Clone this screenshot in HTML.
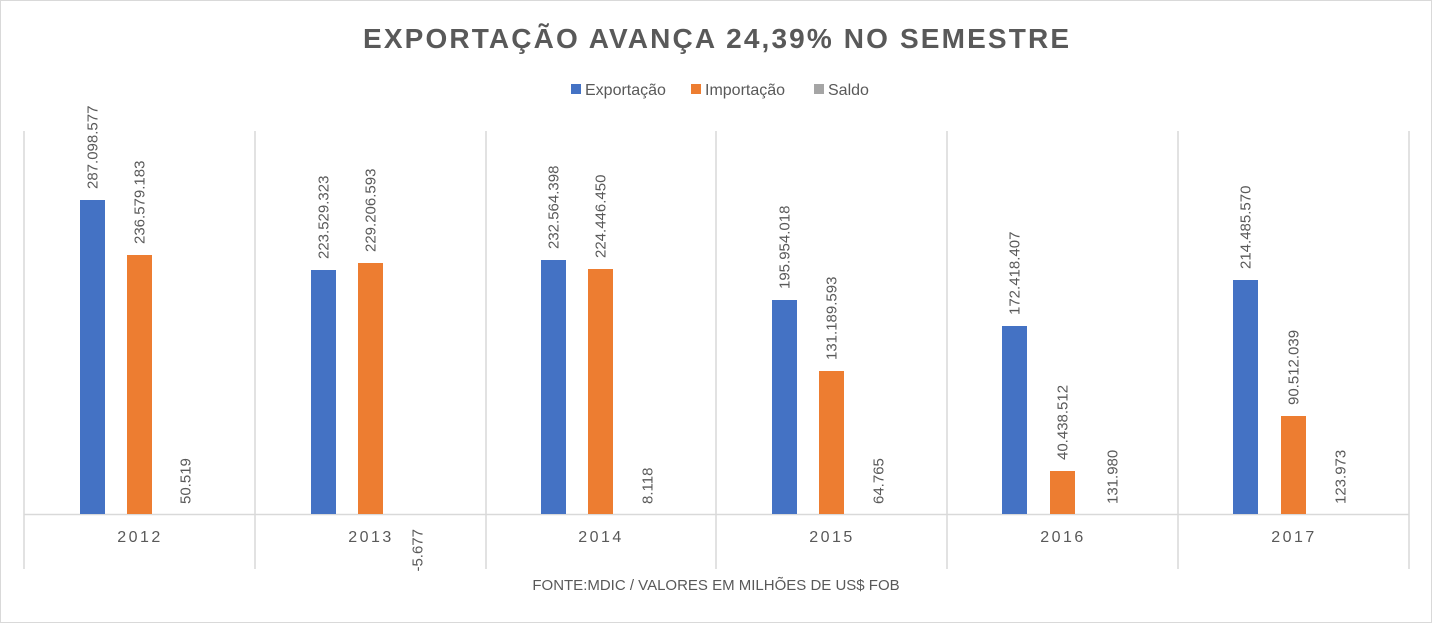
<!DOCTYPE html>
<html><head><meta charset="utf-8"><style>
html,body{margin:0;padding:0;background:#fff}
svg{display:block;font-family:"Liberation Sans",sans-serif}
</style></head><body>
<svg width="1432" height="623" viewBox="0 0 1432 623">
<rect x="0.5" y="0.5" width="1431" height="622" fill="#fff" stroke="#d9d9d9"/>
<text x="716" y="48" text-anchor="middle" font-size="28" font-weight="bold" fill="#595959" textLength="706" lengthAdjust="spacing">EXPORTAÇÃO AVANÇA 24,39% NO SEMESTRE</text>
<rect x="571" y="84" width="10" height="10" fill="#4472c4"/>
<text x="585" y="95" font-size="16" fill="#595959">Exportação</text>
<rect x="691" y="84" width="10" height="10" fill="#ed7d31"/>
<text x="705" y="95" font-size="16" fill="#595959">Importação</text>
<rect x="814" y="84" width="10" height="10" fill="#a5a5a5"/>
<text x="828" y="95" font-size="16" fill="#595959">Saldo</text>
<g stroke="#d9d9d9" stroke-width="1.5">
<line x1="24" y1="131" x2="24" y2="569"/><line x1="255" y1="131" x2="255" y2="569"/>
<line x1="486" y1="131" x2="486" y2="569"/><line x1="716" y1="131" x2="716" y2="569"/>
<line x1="947" y1="131" x2="947" y2="569"/><line x1="1178" y1="131" x2="1178" y2="569"/>
<line x1="1409" y1="131" x2="1409" y2="569"/>
<line x1="24" y1="514.5" x2="1409" y2="514.5"/>
</g>
<g font-size="15" fill="#595959" dominant-baseline="central">
<rect x="80" y="200" width="25" height="314" fill="#4472c4"/>
<rect x="127" y="255" width="25" height="259" fill="#ed7d31"/>
<text transform="translate(93,189) rotate(-90)">287.098.577</text>
<text transform="translate(140,244) rotate(-90)">236.579.183</text>
<text transform="translate(186,504) rotate(-90)">50.519</text>
<rect x="311" y="270" width="25" height="244" fill="#4472c4"/>
<rect x="358" y="263" width="25" height="251" fill="#ed7d31"/>
<text transform="translate(324,259) rotate(-90)">223.529.323</text>
<text transform="translate(371,252) rotate(-90)">229.206.593</text>
<text transform="translate(418,529) rotate(-90)" text-anchor="end">-5.677</text>
<rect x="541" y="260" width="25" height="254" fill="#4472c4"/>
<rect x="588" y="269" width="25" height="245" fill="#ed7d31"/>
<text transform="translate(554,249) rotate(-90)">232.564.398</text>
<text transform="translate(601,258) rotate(-90)">224.446.450</text>
<text transform="translate(648,504) rotate(-90)">8.118</text>
<rect x="772" y="300" width="25" height="214" fill="#4472c4"/>
<rect x="819" y="371" width="25" height="143" fill="#ed7d31"/>
<text transform="translate(785,289) rotate(-90)">195.954.018</text>
<text transform="translate(832,360) rotate(-90)">131.189.593</text>
<text transform="translate(879,504) rotate(-90)">64.765</text>
<rect x="1002" y="326" width="25" height="188" fill="#4472c4"/>
<rect x="1050" y="471" width="25" height="43" fill="#ed7d31"/>
<text transform="translate(1015,315) rotate(-90)">172.418.407</text>
<text transform="translate(1063,460) rotate(-90)">40.438.512</text>
<text transform="translate(1113,504) rotate(-90)">131.980</text>
<rect x="1233" y="280" width="25" height="234" fill="#4472c4"/>
<rect x="1281" y="416" width="25" height="98" fill="#ed7d31"/>
<text transform="translate(1246,269) rotate(-90)">214.485.570</text>
<text transform="translate(1294,405) rotate(-90)">90.512.039</text>
<text transform="translate(1341,504) rotate(-90)">123.973</text>
</g>
<g font-size="16" fill="#595959" text-anchor="middle" letter-spacing="2.5">
<text x="140" y="542">2012</text><text x="371" y="542">2013</text>
<text x="601" y="542">2014</text><text x="832" y="542">2015</text>
<text x="1063" y="542">2016</text><text x="1294" y="542">2017</text>
</g>
<text x="716" y="590" text-anchor="middle" font-size="15" fill="#595959">FONTE:MDIC / VALORES EM MILHÕES DE US$ FOB</text>
</svg>
</body></html>
